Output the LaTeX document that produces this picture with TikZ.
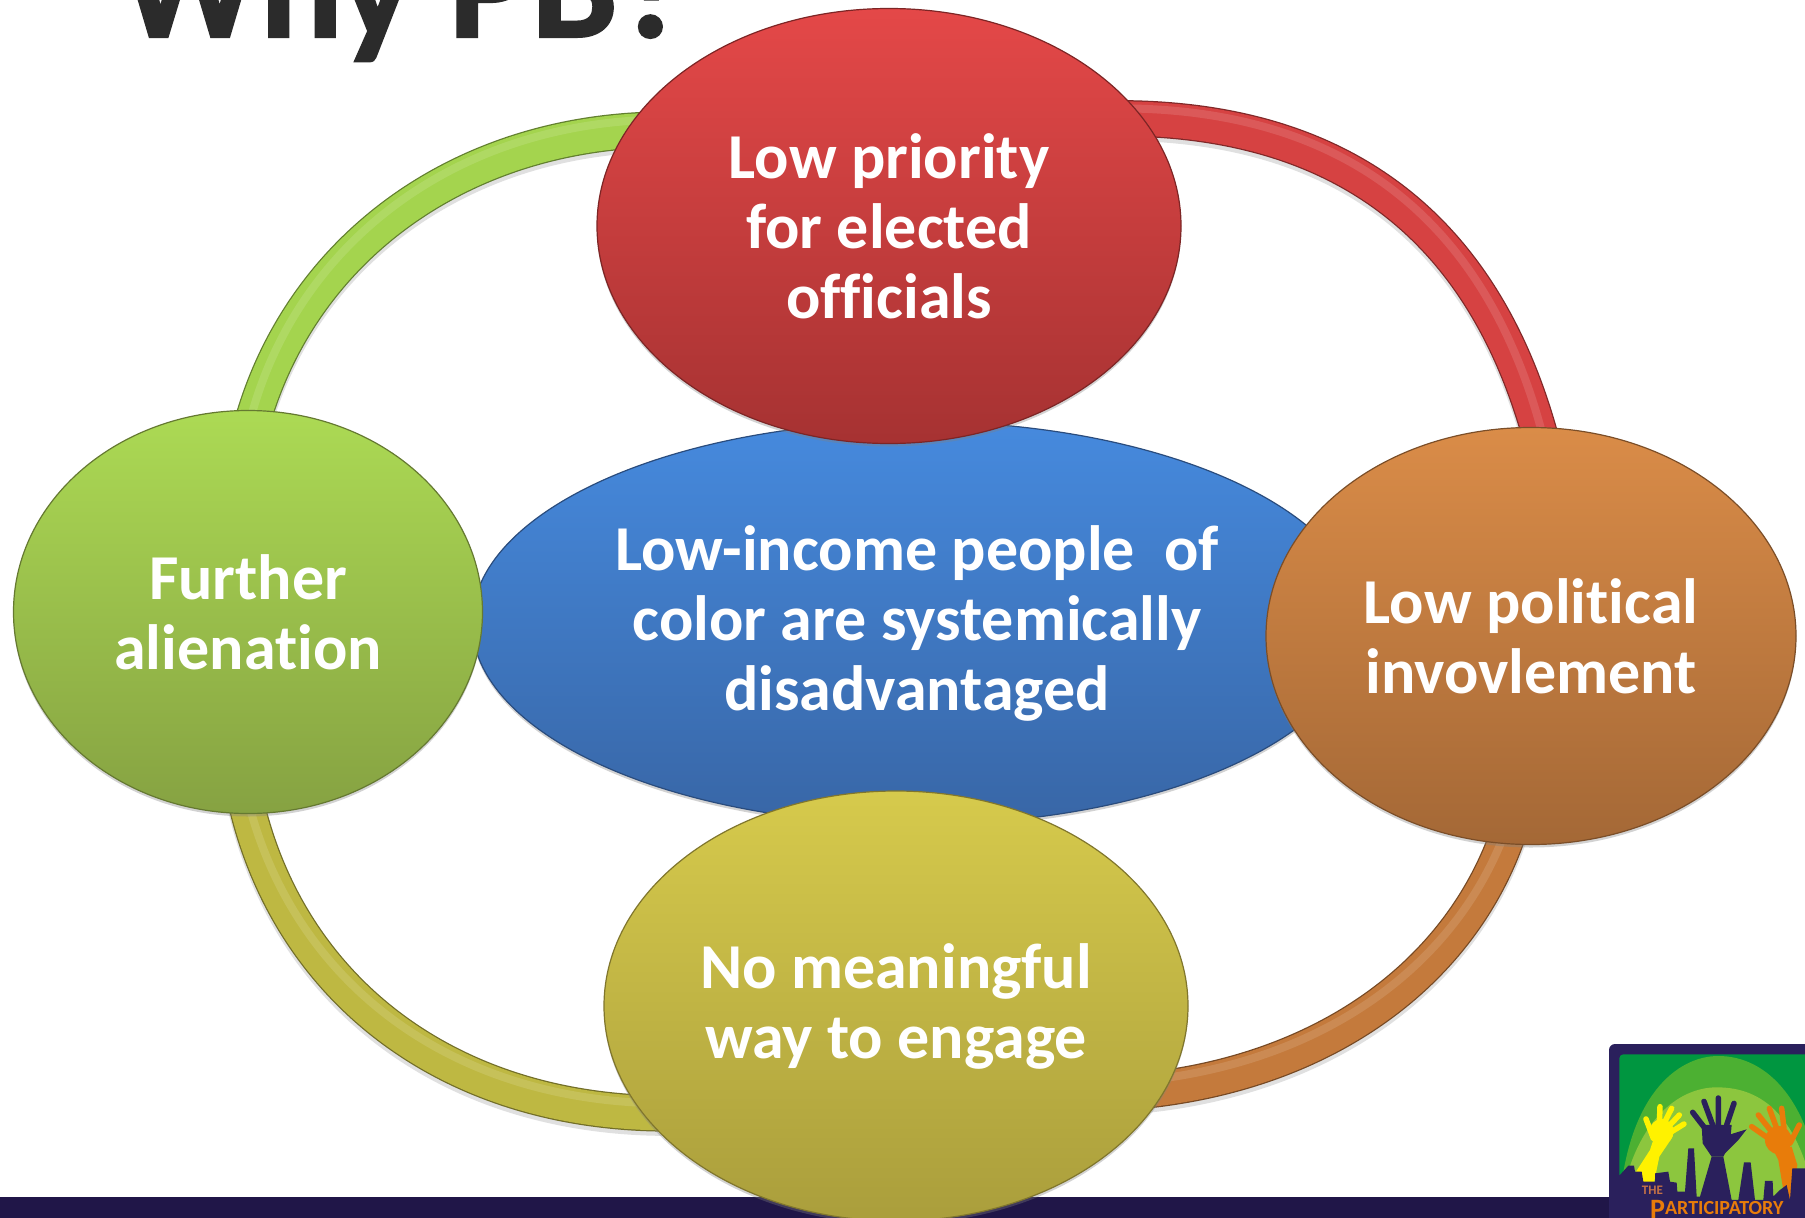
\documentclass[tikz,border=0pt]{standalone}
\usepackage{fontspec}
\setmainfont[Ligatures=NoCommon]{Carlito}
\newfontfamily\titlefont[BoldFeatures={FakeBold=1.3}]{Carlito}
\usetikzlibrary{backgrounds,shadows,shapes.geometric}

\definecolor{ringRed}{RGB}{214,66,66}
\definecolor{ringGreen}{RGB}{164,212,78}
\definecolor{ringOlive}{RGB}{190,184,66}
\definecolor{ringBrown}{RGB}{196,122,60}
\definecolor{barDark}{RGB}{32,22,72}
\definecolor{logoDark}{RGB}{42,32,92}
\definecolor{blueTop}{RGB}{70,138,222}
\definecolor{blueBot}{RGB}{56,102,166}
\definecolor{greenTop}{RGB}{172,218,84}
\definecolor{greenBot}{RGB}{134,162,66}
\definecolor{brownTop}{RGB}{218,140,72}
\definecolor{brownBot}{RGB}{164,104,54}
\definecolor{redTop}{RGB}{228,72,72}
\definecolor{redBot}{RGB}{166,50,50}
\definecolor{oliveTop}{RGB}{214,202,76}
\definecolor{oliveBot}{RGB}{170,158,60}
\definecolor{logoBack}{RGB}{0,150,64}
\definecolor{logoMid}{RGB}{76,176,50}
\definecolor{logoLight}{RGB}{140,198,62}
\definecolor{logoOrange}{RGB}{232,124,10}
\definecolor{logoText}{RGB}{196,112,70}

\tikzset{
  bubble/.style n args={3}{ellipse,minimum width=#1,minimum height=#2,inner sep=0pt,outer sep=0pt,
    align=center,text=white,font=\fontsize{64}{70}\selectfont\bfseries,
    top color=#3Top,bottom color=#3Bot,draw=#3Bot!75!black,line width=1.2pt,
    drop shadow={shadow xshift=0pt,shadow yshift=-3pt,opacity=.35}},
  ringline/.style={line width=34pt,draw=#1,shorten <=-25pt,shorten >=-25pt,
    preaction={draw=black!12,line width=37pt,transform canvas={yshift=-4pt}},
    preaction={draw=#1!60!black,line width=36.5pt},
    postaction={draw=#1!88!white,line width=8pt,transform canvas={yshift=10pt}}},
  finger/.style={line width=5.5pt,line cap=round},
}

\begin{document}
\begin{tikzpicture}  % ------ Why PB ------
      [x=1pt,y=-1pt]
    \clip (0,0) rectangle (1805,1218);

    \node[anchor=base west,inner sep=0pt,text=black!83,font=\fontsize{155}{160}\titlefont\bfseries] (title) at (119,37) {Why PB?};

    \fill[barDark] (0,1197) rectangle (1612,1218);

    \node[bubble={890pt}{403pt}{blue}] (center) at (917,623)
      {Low-income people\ \ of\\color are systemically\\disadvantaged};
    \node[bubble={469pt}{403pt}{green}] (green) at (248,612)
      {Further\\alienation};
    \node[bubble={530pt}{417pt}{brown}] (orange) at (1531,636)
      {Low political\\invovlement};
    \node[bubble={584pt}{435pt}{red}] (red) at (889,226)
      {Low priority\\for elected\\officials};
    \node[bubble={584pt}{430pt}{olive}] (yellow) at (896,1006)
      {No meaningful\\way to engage};

    % ------ rings behind the bubbles ------
    \begin{scope}[on background layer]
      \fill[white] (0,0) rectangle (1805,1218);
      \draw[ringline=ringRed] (red.23) .. controls +(210,0) and +(-48,-190) .. (orange.88);
      \draw[ringline=ringGreen] (green.88) .. controls +(39,-155) and +(-175,5) .. (red.160);
      \draw[ringline=ringOlive] (green.270) .. controls +(34,170) and +(-200,0) .. (yellow.203);
      \draw[ringline=ringBrown] (orange.263) .. controls +(-36,120) and +(170,-17) .. (yellow.343);
    \end{scope}

    % ------ logo ------
    \begin{scope}[shift={(1560,1000)},x=.3333pt,y=-.3333pt]
      \fill[logoDark,rounded corners=6pt] (147,132) rectangle (760,700);
      \begin{scope}
        \clip[rounded corners=4pt] (178,163) rectangle (760,620);
        \fill[logoBack] (178,163) rectangle (760,620);
        \fill[logoMid] (178,620) .. controls (200,290) and (350,168) .. (475,168) .. controls (620,168) and (760,300) .. (790,620) -- cycle;
        \fill[logoLight] (180,620) .. controls (220,370) and (350,262) .. (470,262) .. controls (610,262) and (720,350) .. (770,620) -- cycle;
      \end{scope}
      % yellow hand
      \fill[yellow] (228,515) -- (270,450) -- (283,410) -- (335,415) -- (298,470) -- (282,548) -- (245,548) -- cycle;
      \fill[yellow] (305,395) circle [x radius=36,y radius=38];
      \draw[finger,yellow] (300,320) -- (298,375) (335,325) -- (312,370) (358,345) -- (325,380) (372,372) -- (335,395) (258,357) -- (280,415);
      % orange hand
      \fill[logoOrange] (640,450) -- (695,440) -- (712,495) -- (698,600) -- (675,600) -- (655,480) -- cycle;
      \fill[logoOrange] (655,420) circle [x radius=40,y radius=42];
      \draw[finger,logoOrange] (575,380) -- (625,415) (595,345) -- (635,395) (628,325) -- (650,385) (665,325) -- (672,385) (718,375) -- (690,430);
      % skyline
      \fill[logoDark] (147,525) -- (180,525) -- (205,497) -- (222,497) -- (225,515) -- (245,515) -- (250,545) -- (285,545) -- (285,520) -- (325,515) -- (330,545) -- (350,548) -- (352,575) -- (375,575) -- (385,445) -- (402,445) -- (410,590) -- (420,590) -- (455,470) -- (490,470) -- (515,600) -- (535,600) -- (552,487) -- (572,487) -- (585,600) -- (610,600) -- (615,543) -- (638,543) -- (640,590) -- (660,570) -- (680,555) -- (690,600) -- (697,505) -- (760,505) -- (760,700) -- (147,700) -- cycle;
      % dark hand
      \fill[logoDark] (425,375) -- (515,375) -- (510,430) -- (490,470) -- (455,470) -- (428,430) -- cycle;
      \draw[finger,logoDark] (398,337) -- (435,385) (432,304) -- (458,375) (475,294) -- (475,375) (522,310) -- (500,375);
      \fill[logoDark] (505,405) -- (560,388) -- (535,420) -- (490,465) -- cycle;
      \node[anchor=base west,inner sep=0pt,text=logoText,font=\fontsize{13}{13}\selectfont\bfseries] (logothe) at (245,585) {THE};
      \node[anchor=base west,inner sep=0pt,text=logoOrange,font=\fontsize{20}{20}\selectfont\bfseries] (logoname) at (270,645) {\raisebox{-4pt}{\fontsize{28}{28}\selectfont P}ARTICIPATORY};
    \end{scope}
\end{tikzpicture}
\end{document}
